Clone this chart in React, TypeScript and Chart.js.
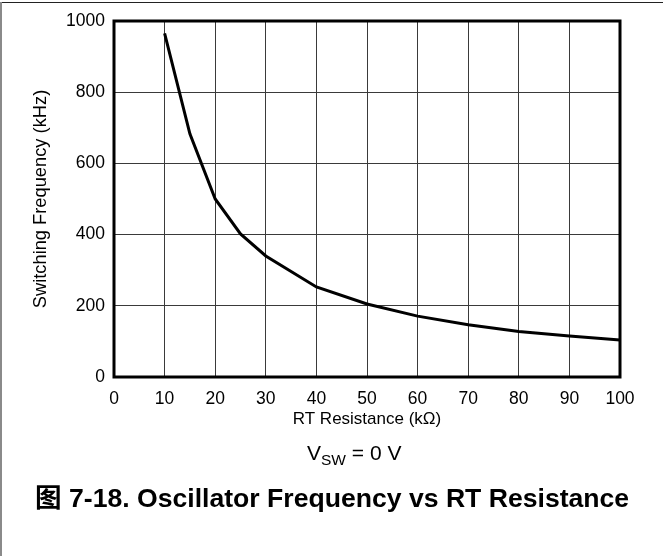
import React, { useEffect, useRef } from "react";
import { Chart, registerables } from "chart.js";

Chart.register(...registerables);

// RT resistance (kΩ) and switching frequency (kHz)
const resistanceK = [10, 15, 20, 25, 30, 40, 50, 60, 70, 80, 90, 100];
const frequencyKHz = [965, 683, 500, 402, 340, 253, 205, 171, 147, 128, 115, 104];
const xTickValues = [0, 10, 20, 30, 40, 50, 60, 70, 80, 90, 100];
const yTickValues = [0, 200, 400, 600, 800, 1000];

const FONT = '"Liberation Sans", Arial, Helvetica, sans-serif';

const framePlugin = {
  id: "frame",
  beforeDraw(chart: any) {
    const { ctx, width, height } = chart;
    ctx.save();
    ctx.fillStyle = "#fff";
    ctx.fillRect(0, 0, width, height);
    ctx.fillStyle = "#222";
    ctx.fillRect(0, 2, width, 1);
    ctx.fillStyle = "#8a8a8a";
    ctx.fillRect(0, 2, 2, height - 2);
    ctx.restore();
  },
  afterDraw(chart: any) {
    const { ctx, chartArea } = chart;
    ctx.save();
    ctx.strokeStyle = "#000";
    ctx.lineWidth = 3;
    ctx.strokeRect(
      chartArea.left,
      chartArea.top,
      chartArea.right - chartArea.left,
      chartArea.bottom - chartArea.top
    );
    ctx.restore();
  },
};

export default function App() {
  const canvasRef = useRef<HTMLCanvasElement | null>(null);

  useEffect(() => {
    document.body.style.margin = "0";
    const canvas = canvasRef.current;
    if (!canvas) return;
    const chart = new Chart(canvas, {
      type: "line",
      data: {
        datasets: [
          {
            data: resistanceK.map((x, i) => ({ x, y: frequencyKHz[i] })),
            borderColor: "#000",
            borderWidth: 3,
            pointRadius: 0,
            tension: 0,
            fill: false,
          },
        ],
      },
      options: {
        responsive: false,
        animation: false,
        events: [],
        layout: { padding: { left: 0, right: 43, top: 21, bottom: 119 } },
        plugins: {
          legend: { display: false },
          tooltip: { enabled: false },
          title: { display: false },
        },
        scales: {
          x: {
            type: "linear",
            min: 0,
            max: 100,
            afterBuildTicks: (s: any) => {
              s.ticks = xTickValues.map((v) => ({ value: v }));
            },
            afterFit: (s: any) => {
              s.height = 60;
            },
            ticks: {
              color: "#000",
              font: { family: FONT, size: 17.5 },
              padding: 12,
              maxRotation: 0,
              autoSkip: false,
              callback: (v: any) => String(v),
            },
            grid: { color: "#3a3a3a", lineWidth: 1, drawTicks: false },
            border: { display: false },
            title: {
              display: true,
              text: "RT Resistance (kΩ)",
              color: "#000",
              font: { family: FONT, size: 17 },
              padding: { top: 0, bottom: 7 },
            },
          },
          y: {
            type: "linear",
            min: 0,
            max: 1000,
            afterBuildTicks: (s: any) => {
              s.ticks = yTickValues.map((v) => ({ value: v }));
            },
            afterFit: (s: any) => {
              s.width = 114;
            },
            ticks: {
              color: "#000",
              font: { family: FONT, size: 17.5 },
              padding: 9,
              autoSkip: false,
              callback: (v: any) => String(v),
            },
            grid: { color: "#3a3a3a", lineWidth: 1, drawTicks: false },
            border: { display: false },
            title: {
              display: true,
              text: "Switching Frequency (kHz)",
              color: "#000",
              font: { family: FONT, size: 18.3 },
              padding: { top: 30, bottom: 0 },
            },
          },
        },
      },
      plugins: [framePlugin],
    } as any);
    return () => chart.destroy();
  }, []);

  return (
    <div style={{ position: "relative", width: 663, height: 556, overflow: "hidden" }}>
      <canvas
        ref={canvasRef}
        width={663}
        height={556}
        style={{ display: "block", width: 663, height: 556 }}
      />
      <div
        style={{
          position: "absolute",
          left: 307,
          top: 442,
          fontFamily: FONT,
          fontSize: 21,
          lineHeight: "21px",
          color: "#000",
          whiteSpace: "nowrap",
        }}
      >
        V<span style={{ fontSize: 15.5, position: "relative", top: 5 }}>SW</span> = 0 V
      </div>
      <div
        style={{
          position: "absolute",
          left: 35,
          top: 485,
          fontFamily: FONT + ', "Noto Sans CJK SC"',
          fontWeight: "bold",
          fontSize: 26.6,
          lineHeight: "26px",
          color: "#000",
          whiteSpace: "nowrap",
        }}
      >
        图 7-18. Oscillator Frequency vs RT Resistance
      </div>
    </div>
  );
}
